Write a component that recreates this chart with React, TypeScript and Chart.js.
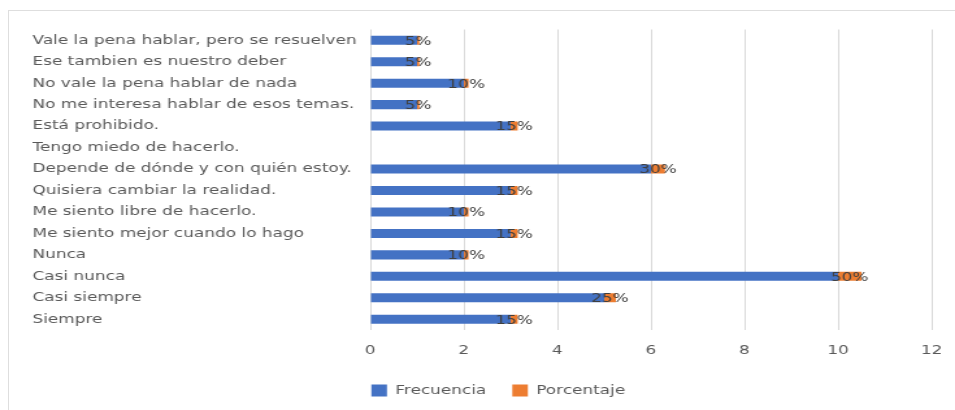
import React, { useEffect, useRef } from "react";
import { Chart, registerables } from "chart.js";

Chart.register(...registerables);

const categories = [
  "Vale la pena hablar, pero se resuelven",
  "Ese tambien es nuestro deber",
  "No vale la pena hablar de nada",
  "No me interesa hablar de esos temas.",
  "Está prohibido.",
  "Tengo miedo de hacerlo.",
  "Depende de dónde y con quién estoy.",
  "Quisiera cambiar la realidad.",
  "Me siento libre de hacerlo.",
  "Me siento mejor cuando lo hago",
  "Nunca",
  "Casi nunca",
  "Casi siempre",
  "Siempre",
];
const frecuencia = [1, 1, 2, 1, 3, 0, 6, 3, 2, 3, 2, 10, 5, 3];
const porcentaje = [0.05, 0.05, 0.1, 0.05, 0.15, 0, 0.3, 0.15, 0.1, 0.15, 0.1, 0.5, 0.25, 0.15];
const seriesNames = ["Frecuencia", "Porcentaje"];
const xMax = 12;
const xStep = 2;

const FONT = "'DejaVu Sans', Verdana, sans-serif";
const STRETCH = 955 / 735;

const pctLabels = {
  id: "pctLabels",
  afterDatasetsDraw(chart: any) {
    const ctx = chart.ctx;
    const meta = chart.getDatasetMeta(1);
    ctx.save();
    ctx.fillStyle = "#404040";
    ctx.font = `13px ${FONT}`;
    ctx.textAlign = "center";
    ctx.textBaseline = "middle";
    meta.data.forEach((el: any, i: number) => {
      const v = porcentaje[i];
      if (!v) return;
      const cx = (el.x + el.base) / 2;
      ctx.fillText(`${Math.round(v * 100)}%`, cx, el.y + 1);
    });
    ctx.restore();
  },
};

const legendShift = {
  id: "legendShift",
  afterLayout(chart: any) {
    const lg = chart.legend;
    if (lg) {
      lg.left += 12.5;
      lg.right += 12.5;
    }
  },
};

export default function App() {
  const ref = useRef<HTMLCanvasElement>(null);
  useEffect(() => {
    if (!ref.current) return;
    Chart.defaults.font.family = FONT;
    const chart = new Chart(ref.current, {
      type: "bar",
      data: {
        labels: categories,
        datasets: [
          {
            label: seriesNames[0],
            data: frecuencia,
            backgroundColor: "#4472C4",
            categoryPercentage: 1,
            barPercentage: 0.42,
          },
          {
            label: seriesNames[1],
            data: porcentaje,
            backgroundColor: "#ED7D31",
            categoryPercentage: 1,
            barPercentage: 0.42,
          },
        ],
      },
      options: {
        indexAxis: "y",
        animation: false,
        responsive: true,
        maintainAspectRatio: false,
        layout: { padding: { left: 25, right: 18, top: 29.5, bottom: 3 } },
        scales: {
          x: {
            stacked: true,
            min: 0,
            max: xMax,
            ticks: { stepSize: xStep, color: "#595959", font: { size: 13, family: FONT }, padding: 13 },
            grid: { color: "#d9d9d9", drawTicks: false },
            border: { display: false },
            afterFit: (scale: any) => {
              scale.paddingLeft = 0;
              scale.paddingRight = 0;
              scale.height = 34;
            },
          },
          y: {
            stacked: true,
            ticks: {
              color: "#595959",
              font: { size: 13, family: FONT },
              crossAlign: "far",
              autoSkip: false,
            },
            grid: { display: false },
            border: { display: false },
            afterFit: (scale: any) => {
              scale.width = 260;
            },
          },
        },
        plugins: {
          legend: {
            position: "bottom",
            labels: {
              color: "#595959",
              font: { size: 13, family: FONT },
              boxWidth: 12,
              boxHeight: 12,
              padding: 20,
            },
          },
          tooltip: { enabled: false },
        },
      },
      plugins: [pctLabels, legendShift],
    });
    return () => chart.destroy();
  }, []);

  return (
    <>
      <div
        style={{
          position: "fixed",
          left: 8,
          top: 10,
          width: 980,
          height: 420,
          borderTop: "1px solid #dedede",
          borderLeft: "1px solid #dedede",
          boxSizing: "border-box",
        }}
      />
      <div
        style={{
          position: "fixed",
          left: 0,
          top: 0,
          width: 735,
          height: 410,
          transform: `scaleX(${STRETCH})`,
          transformOrigin: "0 0",
        }}
      >
        <canvas ref={ref} />
      </div>
    </>
  );
}
